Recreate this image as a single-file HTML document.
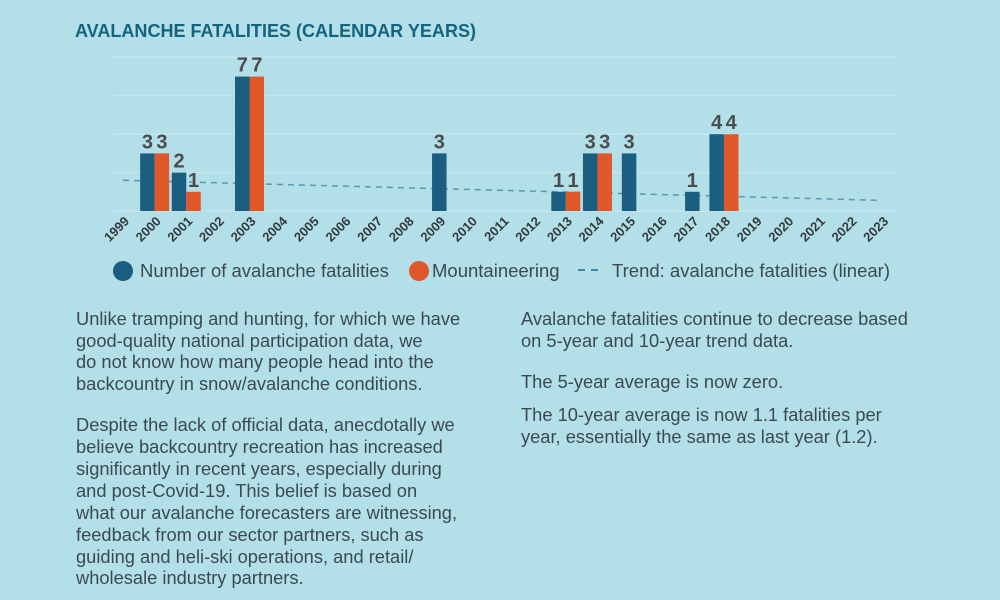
<!DOCTYPE html>
<html><head><meta charset="utf-8"><style>
body{margin:0;width:1000px;height:600px;background:#b2dfe8;overflow:hidden}
svg{display:block}
.t{font-family:"Liberation Sans",sans-serif;font-size:18.3px;fill:#3b4a52}
.l{font-family:"Liberation Sans",sans-serif;font-size:18.5px;fill:#3b4a52}
</style></head><body>
<svg id="c" width="1000" height="600" xmlns="http://www.w3.org/2000/svg">
<text x="75" y="37" font-family="Liberation Sans,sans-serif" font-weight="bold" font-size="18" fill="#14637f" textLength="401" lengthAdjust="spacingAndGlyphs">AVALANCHE FATALITIES (CALENDAR YEARS)</text>
<g id="grid"></g>
<g id="trend"></g>
<g id="bars"></g>
<g id="xlab"></g>
<g>
<g><circle cx="123" cy="271" r="10" fill="#1b5e80"/><text class="l" x="140" y="277">Number of avalanche fatalities</text></g>
<g><circle cx="419" cy="271" r="10" fill="#e0572a"/><text class="l" x="432" y="277">Mountaineering</text></g>
<g><line x1="578" y1="270" x2="603" y2="270" stroke="#3f86a6" stroke-width="2" stroke-dasharray="7,6"/><text class="l" x="612" y="277">Trend: avalanche fatalities (linear)</text></g>
</g>
<g>
<text class="t" x="76" y="325">Unlike tramping and hunting, for which we have</text>
<text class="t" x="76" y="347">good-quality national participation data, we</text>
<text class="t" x="76" y="368">do not know how many people head into the</text>
<text class="t" x="76" y="390">backcountry in snow/avalanche conditions.</text>
<text class="t" x="76" y="431">Despite the lack of official data, anecdotally we</text>
<text class="t" x="76" y="453">believe backcountry recreation has increased</text>
<text class="t" x="76" y="475">significantly in recent years, especially during</text>
<text class="t" x="76" y="497">and post-Covid-19. This belief is based on</text>
<text class="t" x="76" y="519">what our avalanche forecasters are witnessing,</text>
<text class="t" x="76" y="541">feedback from our sector partners, such as</text>
<text class="t" x="76" y="563">guiding and heli-ski operations, and retail/</text>
<text class="t" x="76" y="584">wholesale industry partners.</text>
</g>
<g>
<text class="t" x="521" y="325">Avalanche fatalities continue to decrease based</text>
<text class="t" x="521" y="347">on 5-year and 10-year trend data.</text>
<text class="t" x="521" y="388">The 5-year average is now zero.</text>
<text class="t" x="521" y="421">The 10-year average is now 1.1 fatalities per</text>
<text class="t" x="521" y="443">year, essentially the same as last year (1.2).</text>
</g>
</svg>
<script>
const years=[1999,2000,2001,2002,2003,2004,2005,2006,2007,2008,2009,2010,2011,2012,2013,2014,2015,2016,2017,2018,2019,2020,2021,2022,2023];
const fatalities=[0,3,2,0,7,0,0,0,0,0,3,0,0,0,1,3,3,0,1,4,0,0,0,0,0];
const mountaineering=[0,3,1,0,7,0,0,0,0,0,0,0,0,0,1,3,0,0,0,4,0,0,0,0,0];
const gridTicks=[0,2,4,6,8];
const trendEnds=[1.6,0.55];
const NS='http://www.w3.org/2000/svg';
const x=i=>123+(years[i]-1999)*31.63;
const y=v=>211-v*19.2;
const BW=14.5;
function mk(t,a,p){const e=document.createElementNS(NS,t);for(const k in a)e.setAttribute(k,a[k]);p.appendChild(e);return e;}
const G=document.getElementById('grid');
gridTicks.forEach(v=>{const l=mk('line',{x1:113,x2:898,y1:y(v),y2:y(v),stroke:'#c4e6ee','stroke-width':1.5},G);

});
const T=document.getElementById('trend');
const tl=mk('line',{x1:x(0),y1:y(trendEnds[0]),x2:x(years.length-1),y2:y(trendEnds[1]),stroke:'#5b97ad','stroke-width':1.5,'stroke-dasharray':'6,5'},T);


const B=document.getElementById('bars');
function lab(cx,v){const t=mk('text',{x:cx,y:y(v)-5,'text-anchor':'middle','font-family':'Liberation Sans,sans-serif','font-weight':'bold','font-size':20,fill:'#4a4c4f'},B);t.textContent=v;

}
years.forEach((yr,i)=>{
 const a=fatalities[i],m=mountaineering[i],cx=x(i);
 if(a>0&&m>0){
  const r1=mk('rect',{x:cx-BW,y:y(a),width:BW,height:y(0)-y(a),fill:'#1b5e80'},B);
  
  
  const r2=mk('rect',{x:cx,y:y(m),width:BW,height:y(0)-y(m),fill:'#e0572a'},B);
  
  
  lab(cx-BW/2,a);lab(cx+BW/2,m);
 }else if(a>0){
  const r1=mk('rect',{x:cx-BW/2,y:y(a),width:BW,height:y(0)-y(a),fill:'#1b5e80'},B);
  
  
  lab(cx,a);
 }
});
const X=document.getElementById('xlab');
years.forEach((yr,i)=>{const cx=x(i)+7;const t=mk('text',{x:cx,y:222,'text-anchor':'end',transform:`rotate(-45 ${cx} 222)`,'font-family':'Liberation Sans,sans-serif','font-weight':'bold','font-size':13,fill:'#33393d'},X);t.textContent=yr;

});
</script>
</body></html>
